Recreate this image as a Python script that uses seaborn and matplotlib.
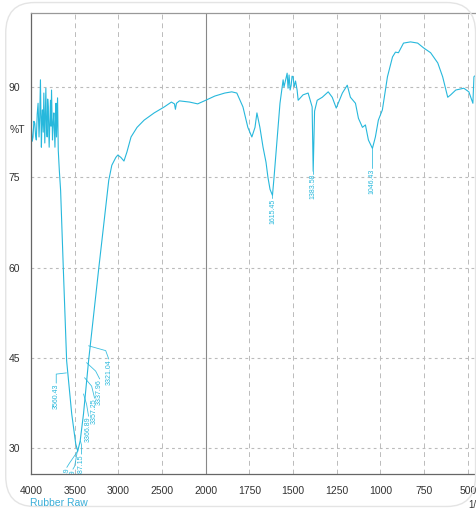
import numpy as np
import pandas as pd
import matplotlib
matplotlib.use("Agg")
import matplotlib.pyplot as plt
from matplotlib.patches import FancyBboxPatch
import seaborn as sns

# ---------------- data ----------------
wavenumber = [4000, 3995, 3986, 3977, 3967, 3957, 3948, 3939, 3929, 3919, 3908, 3900,
              3892, 3881, 3875, 3869, 3860, 3853, 3842, 3836, 3830, 3822, 3815, 3809,
              3803, 3792, 3785, 3777, 3771, 3765, 3754, 3746, 3738, 3726, 3720, 3714,
              3708, 3702, 3696, 3688, 3676, 3661, 3630, 3592, 3534, 3488, 3465, 3437,
              3399, 3341, 3225,
              3110, 3075, 3029, 3006, 2971, 2936, 2902, 2855, 2786, 2705, 2590, 2474,
              2393, 2358, 2347, 2335, 2301, 2185, 2092, 2000, 1948, 1891, 1851, 1822,
              1787, 1759, 1736, 1718, 1707, 1690, 1672, 1655, 1644, 1632, 1618, 1609,
              1598, 1575, 1557, 1552, 1540, 1534, 1529, 1523, 1517, 1511, 1506, 1500,
              1494, 1486, 1477, 1471, 1443, 1414, 1391, 1385, 1377, 1362, 1333, 1299,
              1276, 1253, 1218, 1190, 1172, 1143, 1126, 1103, 1086, 1069, 1046, 1029,
              1012, 989, 960, 931, 914, 897, 868, 828, 787, 753, 713, 672, 644, 615,
              598, 569, 523, 494, 471, 465, 442]
transmittance = [82.5, 83.2, 81.0, 81.7, 84.3, 84.0, 82.0, 81.2, 85.5, 87.3, 81.7, 85.0,
                 91.2, 80.0, 84.5, 86.2, 82.5, 89.0, 80.7, 85.0, 89.8, 83.0, 81.7, 88.0,
                 86.7, 80.0, 84.0, 87.8, 83.5, 89.5, 81.2, 84.0, 85.7, 80.0, 84.5, 87.3,
                 81.7, 85.0, 88.2, 79.5, 76.2, 72.8, 59.8, 44.5, 35.7, 30.7, 29.5, 31.2,
                 35.7, 44.5, 59.8,
                 74.5, 77.0, 78.3, 78.7, 78.3, 77.7, 79.2, 81.7, 83.3, 84.5, 85.7, 86.7,
                 87.5, 87.2, 86.3, 87.3, 87.7, 87.5, 87.2, 87.8, 88.5, 89.0, 89.2, 89.0,
                 86.7, 83.3, 81.7, 83.3, 85.7, 83.3, 80.0, 77.5, 75.0, 73.0, 72.0, 75.0,
                 79.0, 87.3, 91.2, 90.0, 91.5, 92.3, 89.8, 92.0, 89.5, 90.3, 91.8, 91.7,
                 90.0, 91.0, 89.5, 87.8, 88.7, 89.0, 86.7, 76.0, 86.0, 87.8, 88.3, 89.2,
                 88.3, 86.5, 89.0, 90.3, 88.3, 87.3, 84.8, 83.3, 83.7, 81.2, 79.8, 81.7,
                 84.5, 86.2, 91.7, 95.0, 95.8, 95.7, 97.3, 97.5, 97.3, 96.5, 95.7, 94.0,
                 91.7, 88.3, 88.7, 89.5, 89.8, 89.2, 87.3, 91.7, 92.3]

x_ticks = [4000, 3500, 3000, 2500, 2000, 1750, 1500, 1250, 1000, 750, 500]
y_ticks = [30, 45, 60, 75, 90]

# peak labels with their leader paths (wavenumber, %T)
peak_labels = ["3321.04", "3337.96", "3357.25", "3366.89", "3387.15", "3560.43",
               "3442.49", "3455.99", "1615.45", "1383.58", "1046.43"]
leader_wn = [[3341, 3145, 3110], [3364, 3260, 3214], [3387, 3306, 3272],
             [3399, 3364, 3341], [3434, 3422, 3422], [3595, 3711, 3711],
             [3465, 3560, 3590], [3470, 3500, 3520],
             [1618, 1618, 1618], [1385, 1385, 1385], [1046, 1046, 1046]]
leader_t = [[47.0, 46.2, 44.8], [44.2, 42.8, 41.5], [41.7, 40.3, 38.3],
            [39.0, 37.3, 35.3], [31.2, 30.5, 29.0], [42.5, 42.3, 40.8],
            [29.5, 27.5, 26.8], [29.5, 27.0, 26.5],
            [72.0, 71.8, 71.5], [76.0, 75.8, 75.6], [79.8, 78.0, 76.5]]

df = pd.DataFrame({"wn": wavenumber, "T": transmittance})

# ---------------- style ----------------
sns.set_style("white")
plt.rcParams["font.family"] = ["Liberation Sans", "DejaVu Sans"]

line_color = "#27b8dc"
tick_color = "#333333"

fig = plt.figure(figsize=(4.77, 5.08), dpi=100)
frame = FancyBboxPatch((0.012, 0.003), 0.985, 0.992, boxstyle="round,pad=0,rounding_size=0.06",
                       transform=fig.transFigure, facecolor="none", edgecolor="#e4e4e4",
                       linewidth=1.0, zorder=0)
fig.patches.append(frame)

ax = fig.add_axes([31 / 477, 1 - 474 / 508, 1 - 31 / 477 + 0.002, (474 - 13) / 508])


def fwd(x):
    x = np.asarray(x, dtype=float)
    return np.where(x >= 2000, x, 2 * x - 2000)


def inv(u):
    u = np.asarray(u, dtype=float)
    return np.where(u >= 2000, u, (u + 2000) / 2)


ax.set_xscale("function", functions=(fwd, inv))

sns.lineplot(data=df, x="wn", y="T", ax=ax, color=line_color, linewidth=0.8,
             estimator=None, sort=False)

ax.set_xlim(4000, 442)
ax.set_ylim(25.7, 102.3)

ax.set_xticks(x_ticks)
ax.set_xticklabels([str(v) for v in x_ticks])
minor_x = [v for v in list(range(4000, 2000, -100)) + list(range(2000, 440, -50)) if v not in x_ticks]
ax.set_xticks(minor_x, minor=True)
ax.set_yticks(y_ticks)
ax.set_yticklabels([str(v) for v in y_ticks])
ax.set_yticks([v for v in np.arange(27, 102, 3) if v not in y_ticks], minor=True)

ax.tick_params(axis="both", which="major", length=5, width=0.8, color="#555555",
               labelsize=7.5, labelcolor=tick_color, direction="out", pad=3)
ax.tick_params(axis="both", which="minor", length=3, width=0.6, color="#555555", direction="out")
ax.tick_params(axis="x", which="major", pad=4)

for v in x_ticks:
    if v == 2000:
        ax.axvline(v, color="#888888", linewidth=0.8, zorder=0)
    elif v != 4000:
        ax.axvline(v, color="#bbbbbb", linewidth=0.7, linestyle=(0, (5, 4)), zorder=0)
for v in y_ticks:
    ax.axhline(v, color="#bbbbbb", linewidth=0.8, linestyle=(0, (2.5, 3)), zorder=0)

for side in ["left", "bottom"]:
    ax.spines[side].set_color("#666666")
    ax.spines[side].set_linewidth(0.9)
ax.spines["top"].set_color("#999999")
ax.spines["top"].set_linewidth(0.9)
ax.spines["right"].set_visible(False)
ax.set_xlabel("")
ax.set_ylabel("")

ax.text(-0.031, 82.8, "%T", transform=ax.get_yaxis_transform(), ha="center", va="center",
        fontsize=7.5, color=tick_color)

for lab, lw, lt in zip(peak_labels, leader_wn, leader_t):
    ax.plot(lw, lt, color=line_color, linewidth=0.6, alpha=0.9)
    ax.text(lw[-1], lt[-1], lab, rotation=90, ha="center", va="top", fontsize=5,
            color=line_color, clip_on=True)

fig.text(30 / 477, 1 - 503.5 / 508, "Rubber Raw", color="#3aaed8", fontsize=7.5,
         ha="left", va="center")
fig.text(468 / 477, 1 - 504.5 / 508, "1/cm", color=tick_color, fontsize=7,
         ha="left", va="center")

fig.savefig("out.png", dpi=100)
